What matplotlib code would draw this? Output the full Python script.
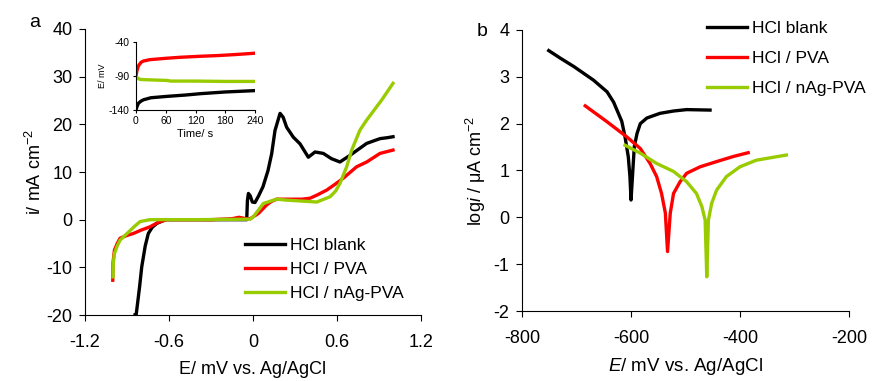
import matplotlib
matplotlib.use("Agg")
import matplotlib.pyplot as plt

plt.rcParams['font.family'] = ['Liberation Sans', 'DejaVu Sans']
plt.rcParams['mathtext.fontset'] = 'custom'
plt.rcParams['mathtext.rm'] = 'Liberation Sans'
plt.rcParams['mathtext.it'] = 'Liberation Sans:italic'
plt.rcParams['axes.unicode_minus'] = False

labels = ["HCl blank", "HCl / PVA", "HCl / nAg-PVA"]
colors = ["#000000", "#ff0000", "#99cc00"]

# Panel a: potentiodynamic curves (E in V, i in mA cm-2)
blank_E = [-0.843, -0.835, -0.81, -0.795, -0.77, -0.748, -0.72, -0.688, -0.65, -0.62, -0.3, -0.045,
           -0.04, -0.033, -0.02, -0.005, 0.014, 0.04, 0.071, 0.107, 0.133, 0.157, 0.193, 0.215, 0.24,
           0.288, 0.336, 0.395, 0.443, 0.502, 0.56, 0.621, 0.693, 0.75, 0.812, 0.907, 0.96, 1.0]
blank_i = [-20, -20, -14, -9.9, -5.5, -2.9, -1.6, -0.8, -0.3, 0.0, 0.0, 0.0,
           4.0, 5.5, 5.0, 3.7, 3.6, 5.0, 6.9, 10.3, 13.8, 18.7, 22.3, 21.5, 19.4,
           17.3, 15.9, 13.1, 14.2, 13.9, 12.8, 12.1, 13.5, 14.7, 16.0, 17.0, 17.2, 17.4]

pva_E = [-1.002, -1.0, -0.99, -0.97, -0.95, -0.9, -0.855, -0.8, -0.736, -0.68, -0.62, -0.3, -0.15,
         -0.1, -0.05, -0.02, 0.038, 0.098, 0.13, 0.169, 0.26, 0.35, 0.407, 0.46, 0.526, 0.58,
         0.645, 0.74, 0.812, 0.907, 0.96, 1.0]
pva_i = [-12.7, -9.0, -6.4, -5.0, -3.9, -3.3, -2.9, -2.2, -1.5, -0.6, 0.0, 0.0, 0.2,
         0.5, 0.2, 0.2, 1.3, 3.1, 3.8, 4.3, 4.3, 4.3, 4.5, 5.2, 6.2, 7.3,
         8.7, 11.1, 12.1, 13.9, 14.3, 14.6]

ag_E = [-1.0, -0.998, -0.99, -0.97, -0.95, -0.9, -0.85, -0.807, -0.736, -0.4, -0.02, 0.002, 0.074,
        0.169, 0.24, 0.35, 0.455, 0.55, 0.59, 0.621, 0.669, 0.705, 0.764, 0.812, 0.919, 1.0]
ag_i = [-12.0, -9.0, -7.1, -5.5, -4.3, -2.9, -1.5, -0.4, 0.0, 0.0, 0.1, 0.6, 3.4,
        4.3, 4.1, 3.9, 3.7, 4.8, 6.0, 7.6, 11.1, 14.6, 18.8, 20.9, 25.1, 28.6]

# Inset: open circuit potential vs time
ocp_t_blank = [0, 2, 5, 10, 15, 30, 62, 100, 130, 180, 240]
ocp_blank = [-140, -135, -130, -127, -125, -122, -120, -118, -116, -113.5, -111.5]
ocp_t_pva = [0, 2, 5, 10, 15, 28, 60, 89, 130, 164, 200, 240]
ocp_pva = [-90, -82, -75, -70, -68, -66, -64, -62.5, -61, -60, -58.5, -56.5]
ocp_t_ag = [0, 3, 8, 20, 40, 62, 70, 120, 180, 240]
ocp_ag = [-91, -93, -95, -95.5, -96, -96.5, -97.5, -97.5, -98, -98]

# Panel b: Tafel curves (E in mV, log i)
tb_E = [-751, -730, -705, -669, -644, -632, -617, -611, -605, -602, -600,
        -597, -594, -589, -583, -571, -547, -522, -498, -455]
tb_y = [3.56, 3.40, 3.22, 2.93, 2.68, 2.46, 2.05, 1.72, 1.29, 0.87, 0.37,
        0.94, 1.51, 1.79, 2.0, 2.12, 2.22, 2.27, 2.30, 2.29]
tp_E = [-684, -644, -608, -583, -565, -553, -544, -537, -533, -528, -522, -510, -498,
        -473, -443, -412, -385]
tp_y = [2.38, 2.04, 1.72, 1.47, 1.15, 0.87, 0.51, 0.09, -0.73, 0.09, 0.51, 0.76, 0.94,
        1.08, 1.19, 1.30, 1.38]
ta_E = [-611, -583, -553, -522, -498, -480, -470, -464, -461, -458, -452, -443, -425,
        -400, -370, -315]
ta_y = [1.54, 1.37, 1.15, 0.98, 0.76, 0.51, 0.23, -0.06, -1.27, -0.06, 0.30, 0.58, 0.87,
        1.08, 1.22, 1.33]

fig = plt.figure(figsize=(8.74, 3.81), dpi=100)

def style(ax, fs=13):
    for s in ['top', 'right']:
        ax.spines[s].set_visible(False)
    ax.tick_params(direction='out', labelsize=fs, width=0.8, length=4)

lw = 2.4

# ---- Panel a
axa = fig.add_axes([0.0973, 0.1732, 0.3844, 0.7507])
axa.plot(blank_E, blank_i, color=colors[0], lw=lw, label=labels[0])
axa.plot(pva_E, pva_i, color=colors[1], lw=lw, label=labels[1])
axa.plot(ag_E, ag_i, color=colors[2], lw=lw, label=labels[2])
axa.set_xlim(-1.2, 1.2)
axa.set_ylim(-20, 40)
axa.set_xticks([-1.2, -0.6, 0, 0.6, 1.2])
axa.set_xticklabels(["-1.2", "-0.6", "0", "0.6", "1.2"])
axa.set_yticks([-20, -10, 0, 10, 20, 30, 40])
style(axa, 13)
axa.tick_params(axis='x', pad=10)
axa.tick_params(axis='y', pad=5)
axa.set_xlabel("E/ mV vs. Ag/AgCl", fontsize=13, labelpad=7)
axa.set_ylabel("i/ mA cm$^{-2}$", fontsize=13, labelpad=1)
axa.legend(loc='upper left', bbox_to_anchor=(0.272, 0.393), bbox_transform=fig.transFigure,
           frameon=False, fontsize=12.5, handlelength=2.3, handletextpad=0.3,
           labelspacing=0.5, borderaxespad=0)
fig.text(0.033, 0.93, "a", fontsize=14)

# inset
axi = fig.add_axes([0.1556, 0.7113, 0.1362, 0.1785])
axi.plot(ocp_t_pva, ocp_pva, color=colors[1], lw=2.4)
axi.plot(ocp_t_ag, ocp_ag, color=colors[2], lw=2.4)
axi.plot(ocp_t_blank, ocp_blank, color=colors[0], lw=2.4)
axi.set_xlim(0, 240)
axi.set_ylim(-140, -40)
axi.set_xticks([0, 60, 120, 180, 240])
axi.set_yticks([-140, -90, -40])
style(axi, 7.5)
axi.tick_params(length=2.5, pad=2)
axi.patch.set_alpha(0)
axi.set_xlabel("Time/ s", fontsize=8, labelpad=2)
axi.set_ylabel("E/ mV", fontsize=6.5, labelpad=1)

# ---- Panel b
axb = fig.add_axes([0.5973, 0.1837, 0.3741, 0.7376])
axb.plot(tb_E, tb_y, color=colors[0], lw=lw, label=labels[0])
axb.plot(tp_E, tp_y, color=colors[1], lw=lw, label=labels[1])
axb.plot(ta_E, ta_y, color=colors[2], lw=lw, label=labels[2])
axb.set_xlim(-800, -200)
axb.set_ylim(-2, 4)
axb.set_xticks([-800, -600, -400, -200])
axb.set_yticks([-2, -1, 0, 1, 2, 3, 4])
style(axb, 13)
axb.tick_params(axis='x', pad=10)
axb.tick_params(axis='y', pad=5)
axb.set_xlabel("$E$/ mV vs. Ag/AgCl", fontsize=13.5, labelpad=6)
axb.set_ylabel("log$i$ / μA cm$^{-2}$", fontsize=13, labelpad=4)
axb.legend(loc='upper left', bbox_to_anchor=(0.8007, 0.963), bbox_transform=fig.transFigure,
           frameon=False, fontsize=12.5, handlelength=2.3, handletextpad=0.3,
           labelspacing=0.85, borderaxespad=0)
fig.text(0.545, 0.905, "b", fontsize=14)

fig.savefig("out.png", dpi=100)
